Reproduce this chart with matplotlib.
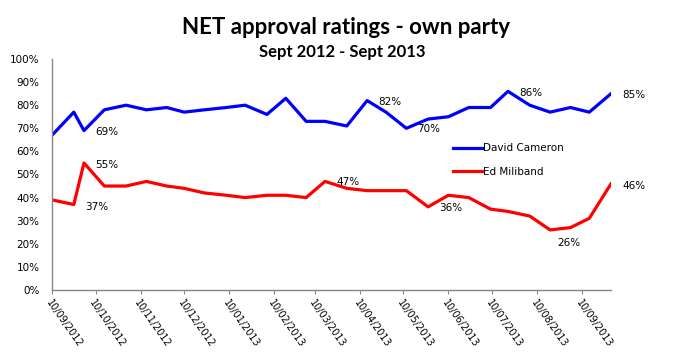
from datetime import date

import matplotlib
matplotlib.use("Agg")
import matplotlib.dates as mdates
import matplotlib.pyplot as plt
from matplotlib.ticker import FuncFormatter, MultipleLocator

plt.rcParams["font.family"] = ["DejaVu Sans"]

# poll dates and net approval among own party supporters
poll_dates = [
    date(2012, 9, 10), date(2012, 9, 25), date(2012, 10, 2), date(2012, 10, 16),
    date(2012, 10, 31), date(2012, 11, 14), date(2012, 11, 28), date(2012, 12, 10),
    date(2012, 12, 24), date(2013, 1, 8), date(2013, 1, 21), date(2013, 2, 5),
    date(2013, 2, 18), date(2013, 3, 4), date(2013, 3, 17), date(2013, 4, 1),
    date(2013, 4, 15), date(2013, 4, 28), date(2013, 5, 12), date(2013, 5, 27),
    date(2013, 6, 10), date(2013, 6, 24), date(2013, 7, 9), date(2013, 7, 21),
    date(2013, 8, 5), date(2013, 8, 19), date(2013, 9, 2), date(2013, 9, 15),
    date(2013, 9, 30),
]
cameron = [67, 77, 69, 78, 80, 78, 79, 77, 78, 79, 80, 76, 83, 73, 73, 71, 82, 77,
           70, 74, 75, 79, 79, 86, 80, 77, 79, 77, 85]
miliband = [39, 37, 55, 45, 45, 47, 45, 44, 42, 41, 40, 41, 41, 40, 47, 44, 43, 43,
            43, 36, 41, 40, 35, 34, 32, 26, 27, 31, 46]

# which points get a value label, and where (offset in pixels)
cameron_labels = {2: (11, -1), 16: (11, -1), 18: (11, -1), 23: (11, -2), 28: (11, -1)}
miliband_labels = {1: (11, -2), 2: (11, -2), 14: (11, -1), 19: (11, -1),
                   25: (7, -13), 28: (11, -2)}

fig = plt.figure(figsize=(6.91, 3.62), dpi=100)
ax = fig.add_axes([0.0753, 0.199, 0.809, 0.638])

ax.plot(poll_dates, cameron, color="#0000ff", lw=2.3, label="David Cameron")
ax.plot(poll_dates, miliband, color="#ff0000", lw=2.3, label="Ed Miliband")

for series, labels in ((cameron, cameron_labels), (miliband, miliband_labels)):
    for i, (dx, dy) in labels.items():
        ax.annotate(f"{series[i]}%", (poll_dates[i], series[i]), xytext=(dx, dy),
                    textcoords="offset pixels", ha="left", va="center",
                    fontsize=7.5, color="black")

ax.set_ylim(0, 100)
ax.set_xlim(poll_dates[0], poll_dates[-1])
ax.yaxis.set_major_locator(MultipleLocator(10))
ax.yaxis.set_major_formatter(FuncFormatter(lambda v, _: f"{v:.0f}%"))
ax.xaxis.set_major_locator(mdates.MonthLocator(bymonthday=10))
ax.xaxis.set_major_formatter(mdates.DateFormatter("%d/%m/%Y"))

for lbl in ax.get_xticklabels():
    lbl.set_rotation(-55)
    lbl.set_ha("left")
    lbl.set_va("top")
    lbl.set_rotation_mode("anchor")

ax.tick_params(axis="x", length=3, color="#868686", labelsize=7, pad=3)
ax.tick_params(axis="y", length=0, labelsize=7.5, pad=9)
for side in ("top", "right"):
    ax.spines[side].set_visible(False)
for side in ("left", "bottom"):
    ax.spines[side].set_color("#868686")
    ax.spines[side].set_linewidth(1.0)

ax.legend(loc="upper left", bbox_to_anchor=(0.717, 0.635), frameon=False,
          fontsize=7.5, handlelength=2.8, handletextpad=0.1, labelspacing=1.3,
          borderpad=0, borderaxespad=0)

fig.text(0.5, 0.925, "NET approval ratings - own party", ha="center", va="center",
         fontsize=16, fontweight="bold", family="Lato")
fig.text(0.496, 0.856, "Sept 2012 - Sept 2013", ha="center", va="center",
         fontsize=12, fontweight="bold", family="Lato")

fig.savefig("out.png", dpi=100)
